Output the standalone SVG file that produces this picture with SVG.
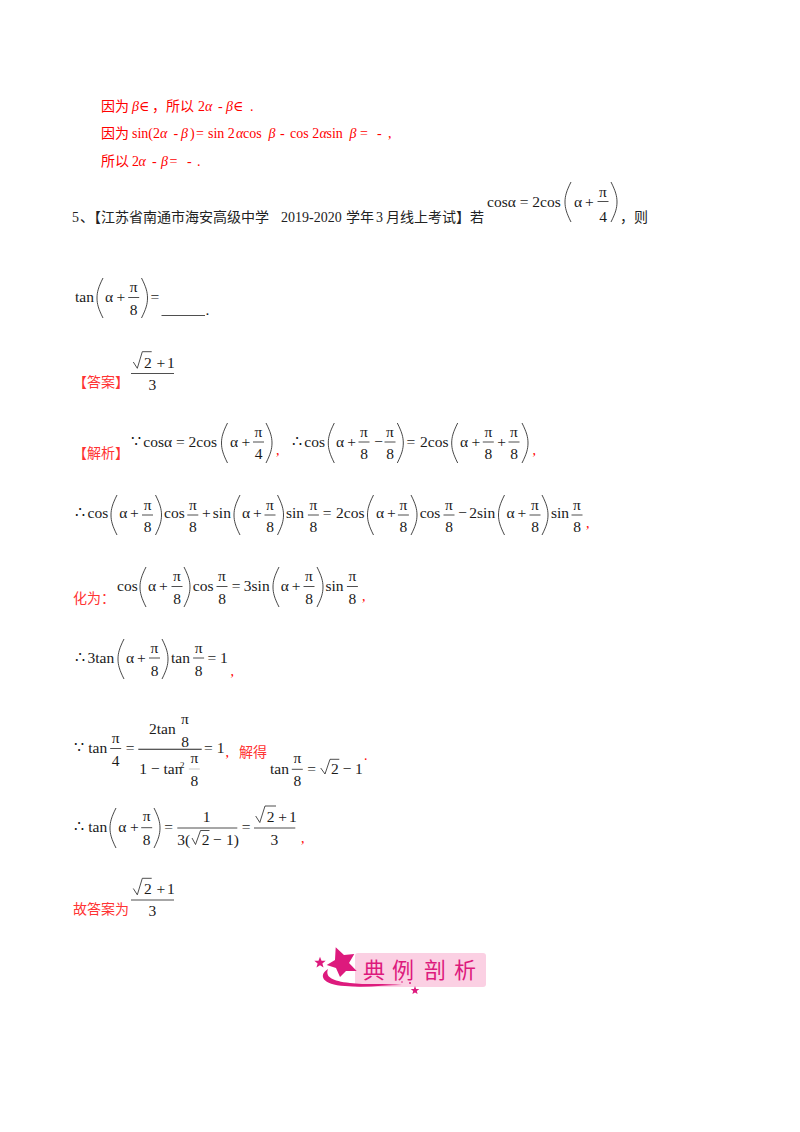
<svg xmlns="http://www.w3.org/2000/svg" width="800" height="1132" viewBox="0 0 800 1132">
<style>
text{font-family:"Liberation Serif","DejaVu Serif",serif;font-size:15.5px;fill:#1a1a1a}
.c{text-anchor:middle}
.s{font-size:14px;fill:#f00}
.i{font-style:italic}
.r{font-family:"Noto Sans CJK SC",sans-serif;font-size:14px;fill:#f33}
.rb{font-family:"Noto Sans CJK SC",sans-serif;font-size:14px;fill:#f00}
.k{font-family:"Noto Sans CJK SC",sans-serif;font-size:14px;fill:#222}
.t{font-size:14px;fill:#222}
.p{fill:none;stroke:#333;stroke-width:.9}
.b{fill:none;stroke:#222;stroke-width:.8}
.d{font-family:"Noto Sans CJK SC",sans-serif;font-size:22px;fill:#dd1a7d;text-anchor:middle}
</style>
<defs>
<path id="lp" class="p" d="M6 0C1.500 9 0 14 0 20S1.500 31 6 40"/>
<path id="rp" class="p" d="M0 0C4.500 9 6 14 6 20S4.500 31 0 40"/>
</defs>
<rect width="800" height="1132" fill="#fff"/>

<g id="red-lines">
<text class="rb" x="101" y="111">因为</text><text class="s i" x="132" y="111">β</text><text class="s" x="139" y="111">∈</text><text class="rb" x="152" y="111">，所以</text><text class="s" x="198" y="111">2</text><text class="s i" x="205" y="111">α</text><text class="s" x="218" y="111">-</text><text class="s i" x="226" y="111">β</text><text class="s" x="233" y="111">∈</text><text class="s" x="250" y="111">.</text>
<text class="rb" x="101" y="138">因为</text><text class="s" x="132" y="138">sin(2</text><text class="s i" x="160" y="138">α</text><text class="s" x="173.500" y="138">-</text><text class="s i" x="181" y="138">β</text><text class="s" x="190" y="138">)</text><text class="s" x="196" y="138">=</text><text class="s" x="208" y="138">sin 2</text><text class="s i" x="236" y="138">α</text><text class="s" x="243" y="138">cos</text><text class="s i" x="268.500" y="138">β</text><text class="s" x="280" y="138">-</text><text class="s" x="290" y="138">cos 2</text><text class="s i" x="319.500" y="138">α</text><text class="s" x="326.500" y="138">sin</text><text class="s i" x="349.500" y="138">β</text><text class="s" x="360" y="138">=</text><text class="s" x="377" y="138">-</text><text class="s" x="388" y="138">,</text>
<text class="rb" x="101" y="166">所以</text><text class="s" x="132" y="166">2</text><text class="s i" x="138.500" y="166">α</text><text class="s" x="152" y="166">-</text><text class="s i" x="161" y="166">β</text><text class="s" x="169.500" y="166">=</text><text class="s" x="187" y="166">-</text><text class="s" x="197" y="166">.</text>
</g>

<g id="question">
<text class="t" x="72" y="222">5</text><text class="k" x="80" y="222">、【江苏省南通市海安高级中学</text><text class="t" x="281" y="222">2019-2020</text><text class="k" x="346" y="222">学年</text><text class="t" x="376" y="222">3</text><text class="k" x="386" y="222">月线上考试】若</text>
<text x="487" y="207">cosα = 2cos</text><use href="#lp" x="565" y="182"/><text x="574" y="207">α</text><text x="585" y="207">+</text><text class="c" x="603" y="197">π</text><path class="b" d="M597.500 201.500H608.500"/><text class="c" x="603" y="222">4</text><use href="#rp" x="611" y="182"/><text class="k" x="620" y="222">，</text><text class="k" x="634" y="222">则</text>
<text x="75" y="302">tan</text><use href="#lp" x="97" y="278"/><text x="105" y="302">α</text><text x="116.500" y="302">+</text><text class="c" x="133.700" y="292">π</text><path class="b" d="M128.200 297.500H139.200"/><text class="c" x="133.700" y="315">8</text><use href="#rp" x="141.500" y="278"/><text x="150.500" y="302">=</text><path class="b" d="M161.500 315.500H205"/><text x="205.500" y="315">.</text>
</g>

<g id="answer">
<text class="r" x="73" y="387">【答案】</text>
<path class="b" d="M131 373.500H174M133.300 362L137.300 368.300L142.300 351.700H151.700"/><text x="144" y="368">2</text><text x="156.500" y="368">+</text><text x="167" y="368">1</text><text class="c" x="152.300" y="390">3</text>
</g>

<g id="analysis-1">
<text class="r" x="73" y="458">【解析】</text>
<text x="130.500" y="447">∵</text><text x="143.300" y="447">cosα = 2cos</text><use href="#lp" x="221.500" y="423"/><text x="230" y="447">α</text><text x="241.500" y="447">+</text><text class="c" x="258.500" y="437">π</text><path class="b" d="M253 442H264"/><text class="c" x="258.500" y="459">4</text><use href="#rp" x="266" y="423"/><text class="s" x="276" y="455">,</text>
<text x="291.500" y="447">∴</text><text x="304.300" y="447">cos</text><use href="#lp" x="328.300" y="423"/><text x="336" y="447">α</text><text x="347.300" y="447">+</text><text class="c" x="364" y="437">π</text><path class="b" d="M358.500 442H369.500"/><text class="c" x="364" y="459">8</text><text x="374.300" y="447">−</text><text class="c" x="390" y="437">π</text><path class="b" d="M384.500 442H395.500"/><text class="c" x="390" y="459">8</text><use href="#rp" x="397.300" y="423"/><text x="406.500" y="447">=</text><text x="420" y="447">2cos</text><use href="#lp" x="451.700" y="423"/><text x="460" y="447">α</text><text x="471.500" y="447">+</text><text class="c" x="488.300" y="437">π</text><path class="b" d="M482.800 442H493.800"/><text class="c" x="488.300" y="459">8</text><text x="497.300" y="447">+</text><text class="c" x="514" y="437">π</text><path class="b" d="M508.500 442H519.500"/><text class="c" x="514" y="459">8</text><use href="#rp" x="522" y="423"/><text class="s" x="532.500" y="455">,</text>
</g>

<g id="analysis-2">
<text x="74.500" y="518">∴</text><text x="87.500" y="518">cos</text><use href="#lp" x="111" y="495"/><text x="119.300" y="518">α</text><text x="130" y="518">+</text><text class="c" x="147.600" y="510">π</text><path class="b" d="M142 515H153"/><text class="c" x="147.600" y="532">8</text><use href="#rp" x="155.500" y="495"/><text x="164" y="518">cos</text><text class="c" x="192.800" y="510">π</text><path class="b" d="M187.300 515H198.300"/><text class="c" x="192.800" y="532">8</text><text x="202" y="518">+</text><text x="212.800" y="518">sin</text><use href="#lp" x="234" y="495"/><text x="242" y="518">α</text><text x="253" y="518">+</text><text class="c" x="270" y="510">π</text><path class="b" d="M264.500 515H275.500"/><text class="c" x="270" y="532">8</text><use href="#rp" x="277.500" y="495"/><text x="286" y="518">sin</text><text class="c" x="313.400" y="510">π</text><path class="b" d="M307.900 515H318.900"/><text class="c" x="313.400" y="532">8</text><text x="322.800" y="518">=</text><text x="336" y="518">2cos</text><use href="#lp" x="367.500" y="495"/><text x="376" y="518">α</text><text x="387" y="518">+</text><text class="c" x="403.400" y="510">π</text><path class="b" d="M397.900 515H408.900"/><text class="c" x="403.400" y="532">8</text><use href="#rp" x="411" y="495"/><text x="419.700" y="518">cos</text><text class="c" x="449" y="510">π</text><path class="b" d="M443.500 515H454.500"/><text class="c" x="449" y="532">8</text><text x="458.300" y="518">−</text><text x="469.300" y="518">2sin</text><use href="#lp" x="498.500" y="495"/><text x="506.600" y="518">α</text><text x="517.600" y="518">+</text><text class="c" x="535" y="510">π</text><path class="b" d="M529.500 515H540.500"/><text class="c" x="535" y="532">8</text><use href="#rp" x="542" y="495"/><text x="551" y="518">sin</text><text class="c" x="577" y="510">π</text><path class="b" d="M571.500 515H582.500"/><text class="c" x="577" y="532">8</text><text class="s" x="586" y="528">,</text>
</g>

<g id="analysis-3">
<text class="r" x="73" y="603">化为：</text>
<text x="117" y="591">cos</text><use href="#lp" x="140" y="567"/><text x="148" y="591">α</text><text x="159" y="591">+</text><text class="c" x="177" y="581">π</text><path class="b" d="M171.500 586.500H182.500"/><text class="c" x="177" y="604">8</text><use href="#rp" x="184" y="567"/><text x="192.800" y="591">cos</text><text class="c" x="222" y="581">π</text><path class="b" d="M216.500 586.500H227.500"/><text class="c" x="222" y="604">8</text><text x="231.700" y="591">=</text><text x="243.800" y="591">3sin</text><use href="#lp" x="273" y="567"/><text x="280.700" y="591">α</text><text x="291.700" y="591">+</text><text class="c" x="309" y="581">π</text><path class="b" d="M303.500 586.500H314.500"/><text class="c" x="309" y="604">8</text><use href="#rp" x="317" y="567"/><text x="325.500" y="591">sin</text><text class="c" x="352.400" y="581">π</text><path class="b" d="M346.900 586.500H357.900"/><text class="c" x="352.400" y="604">8</text><text class="s" x="362" y="601">,</text>
</g>

<g id="analysis-4">
<text x="74.500" y="663">∴</text><text x="87.500" y="663">3tan</text><use href="#lp" x="118" y="639"/><text x="126" y="663">α</text><text x="137" y="663">+</text><text class="c" x="154.500" y="653">π</text><path class="b" d="M149 658H160"/><text class="c" x="154.500" y="676">8</text><use href="#rp" x="162" y="639"/><text x="171" y="663">tan</text><text class="c" x="198.600" y="653">π</text><path class="b" d="M193.100 658H204.100"/><text class="c" x="198.600" y="676">8</text><text x="207.600" y="663">=</text><text x="220" y="663">1</text><text class="s" x="230.500" y="676">,</text>
</g>

<g id="analysis-5">
<text x="74" y="753">∵</text><text x="88.300" y="753">tan</text><text class="c" x="115.700" y="743">π</text><path class="b" d="M110.200 748.500H121.200"/><text class="c" x="115.700" y="766">4</text><text x="125.700" y="753">=</text>
<text x="149" y="734">2tan</text><text class="c" x="185" y="724">π</text><text class="c" x="185" y="747">8</text><path class="b" d="M138.300 749.300H201.700" style="stroke-width:1.100"/><text x="139.300" y="773.500">1 − tan</text><text x="180" y="768" style="font-size:9px">2</text><text class="c" x="194.300" y="763">π</text><path class="b" d="M188.800 769H199.800" style="stroke:#bbb"/><text class="c" x="194.300" y="786">8</text><text x="204" y="753">=</text><text x="216.700" y="753">1</text><text class="s" x="225.500" y="757">,</text><text class="r" x="239" y="757">解得</text>
<text x="270" y="773.500">tan</text><text class="c" x="297.300" y="763">π</text><path class="b" d="M291.800 769.300H302.800"/><text class="c" x="297.300" y="786">8</text><text x="307.300" y="773.500">=</text><path class="b" d="M320.700 768L325 774L330 759.300H339.300"/><text x="331" y="773.500">2</text><text x="342.700" y="773.500">−</text><text x="355" y="773.500">1</text><text class="s" x="364" y="760">.</text>
</g>

<g id="analysis-6">
<text x="74" y="832">∴</text><text x="88.300" y="832">tan</text><use href="#lp" x="110" y="808"/><text x="118.300" y="832">α</text><text x="130" y="832">+</text><text class="c" x="146.700" y="821">π</text><path class="b" d="M141.200 827.700H152.200"/><text class="c" x="146.700" y="845">8</text><use href="#rp" x="154" y="808"/><text x="164.300" y="832">=</text>
<text class="c" x="206.700" y="822">1</text><path class="b" d="M177.300 828H237.300M192 838L195.500 844.500L200.500 830.500H209.500"/><text x="177.300" y="845">3(</text><text x="201.700" y="845">2</text><text x="213" y="845">−</text><text x="226" y="845">1)</text><text x="241.700" y="832">=</text>
<path class="b" d="M254 828H295.300M255.700 816L259.800 822.500L265 806H276"/><text x="266.700" y="822">2</text><text x="278.300" y="822">+</text><text x="289" y="822">1</text><text class="c" x="274.300" y="845">3</text><text class="s" x="301" y="843">,</text>
</g>

<g id="conclusion">
<text class="r" x="73" y="913.500">故答案为</text>
<path class="b" d="M131 900H174M133.300 888.500L137.300 894.800L142.300 878.300H151.700"/><text x="144" y="894">2</text><text x="156.500" y="894">+</text><text x="167" y="894">1</text><text class="c" x="152.300" y="916">3</text>
</g>

<g id="badge">
<rect x="355" y="953" width="131" height="34" rx="3" fill="#fbd0e3"/>
<path d="M328 969C318 975 322 985 345 986C365 988 385 985 402 985C385 983 365 985 350 983C332 981 325 977 328 969Z" fill="#dd1a7d"/>
<polygon points="335.700,947.300 344,955 354.300,954 349,963 356.700,971 346,971 340,977 336,968 326.700,965 335,960" fill="#dd1a7d"/>
<polygon points="320,956.700 321.500,960.700 325.700,960.800 322.400,963.500 323.500,967.600 320,965.200 316.500,967.600 317.600,963.500 314.300,960.800 318.500,960.700" fill="#dd1a7d"/>
<polygon points="415,986 416.100,989 419.300,989.100 416.800,991.100 417.600,994.100 415,992.400 412.400,994.100 413.200,991.100 410.700,989.100 413.900,989" fill="#dd1a7d"/>
<circle cx="402" cy="982" r=".8" fill="#dd1a7d"/><circle cx="410" cy="983" r="1" fill="#dd1a7d"/>
<text class="d" x="374" y="978">典</text><text class="d" x="403" y="978">例</text><text class="d" x="435" y="978">剖</text><text class="d" x="465" y="978">析</text>
</g>
</svg>
